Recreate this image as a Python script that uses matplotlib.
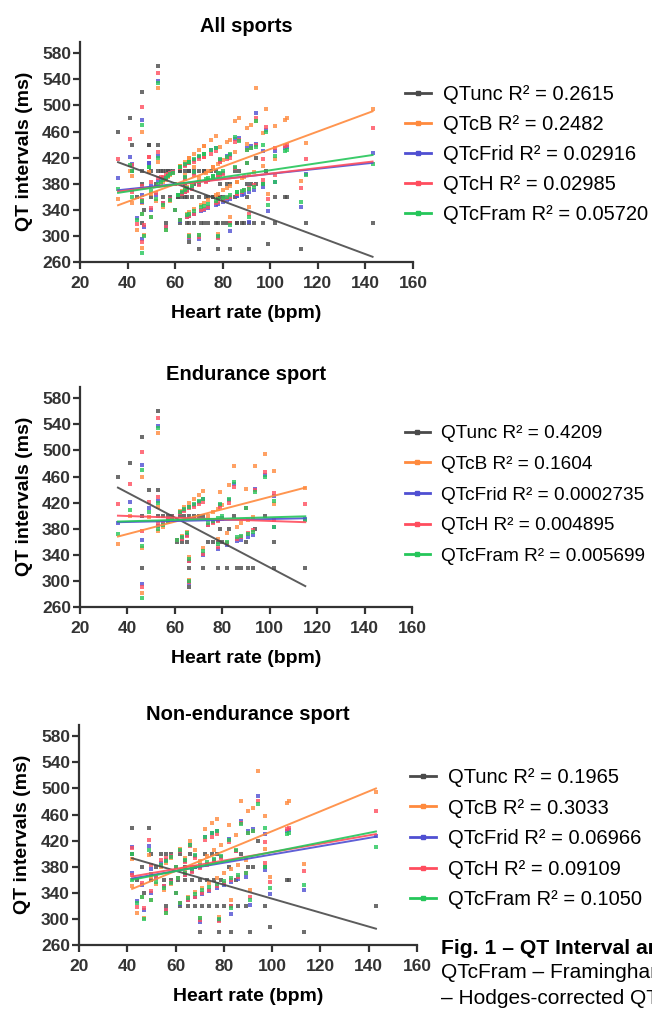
import matplotlib.pyplot as plt
from matplotlib.lines import Line2D

# series names and colours (GraphPad style)
series = ["QTunc", "QTcB", "QTcFrid", "QTcH", "QTcFram"]
colors = ["#4a4a4a", "#ff8a3d", "#4f4fd2", "#ff4d5e", "#25c65a"]

# Endurance athletes: heart rate and QT values (ms)
end_hr = [36, 41, 46, 46, 46, 49, 53, 53, 53, 55, 57, 59, 62, 64, 66, 68, 70, 72,
          61, 63, 65, 74, 76, 78, 80, 66, 72, 78, 82, 86, 88, 91, 93, 79, 83, 85,
          90, 94, 98, 102, 102, 115, 66]
end_unc = [460, 480, 520, 320, 400, 440, 560, 440, 400, 400, 400, 400, 400, 400, 400, 400, 400, 400,
           360, 360, 360, 360, 360, 360, 360, 320, 320, 320, 320, 320, 320, 320, 320, 380, 380, 400,
           360, 380, 400, 360, 320, 320, 290]
end_b = [357, 400, 460, 282, 350, 398, 526, 414, 376, 383, 390, 397, 407, 413, 420, 426, 432, 438,
         363, 369, 375, 400, 405, 410, 416, 336, 350, 365, 374, 383, 388, 394, 398, 436, 447, 476,
         441, 476, 495, 469, 418, 443, 301]
end_frid = [388, 421, 478, 295, 363, 412, 538, 422, 384, 389, 393, 398, 404, 409, 413, 417, 421, 425,
            362, 366, 370, 386, 390, 393, 396, 330, 340, 349, 355, 361, 363, 368, 370, 416, 424, 449,
            412, 441, 463, 430, 382, 395, 297]
end_h = [418, 449, 498, 290, 376, 421, 550, 428, 388, 391, 395, 398, 404, 407, 411, 414, 418, 421,
         362, 365, 369, 385, 388, 392, 395, 330, 341, 352, 358, 365, 368, 374, 378, 413, 420, 444,
         412, 439, 467, 434, 394, 418, 299]
end_fram = [372, 409, 470, 274, 353, 405, 534, 420, 380, 386, 392, 397, 405, 410, 414, 418, 422, 426,
            363, 367, 374, 389, 392, 396, 400, 334, 346, 356, 360, 367, 369, 372, 375, 418, 425, 451,
            411, 436, 460, 423, 383, 394, 300]

# Non-endurance athletes
non_hr = [42, 42, 44, 46, 47, 49, 50, 50, 52, 54, 55, 56, 56, 58, 58, 60, 60, 61, 62, 62,
          64, 64, 65, 66, 67, 68, 68, 70, 70, 71, 72, 73, 74, 75, 76, 77, 77, 78, 79, 80,
          82, 83, 83, 85, 86, 87, 89, 90, 91, 92, 94, 97, 97, 99, 106, 107, 113, 143]
non_unc = [440, 400, 360, 380, 340, 440, 400, 360, 380, 400, 360, 320, 400, 360, 400, 380, 340, 360, 400, 320,
           360, 380, 320, 400, 360, 320, 380, 360, 280, 320, 400, 360, 320, 400, 360, 320, 400, 280, 360, 320,
           380, 320, 280, 360, 320, 400, 320, 380, 280, 380, 420, 320, 380, 288, 360, 360, 280, 320]
non_b = [392, 350, 309, 333, 302, 398, 365, 329, 354, 379, 345, 309, 386, 354, 393, 380, 340, 363, 407, 325,
         372, 393, 333, 420, 380, 341, 405, 389, 302, 348, 438, 397, 355, 447, 405, 363, 453, 303, 413, 370,
         444, 376, 329, 428, 383, 481, 390, 465, 345, 470, 526, 407, 457, 365, 478, 480, 384, 494]
non_frid = [410, 370, 327, 352, 314, 412, 376, 339, 362, 386, 350, 313, 391, 356, 396, 380, 340, 362, 404, 323,
            368, 388, 329, 413, 374, 333, 396, 379, 295, 338, 425, 384, 343, 431, 390, 347, 434, 298, 395, 352,
            422, 357, 307, 404, 361, 450, 365, 435, 322, 438, 488, 375, 430, 338, 434, 436, 345, 427]
non_h = [409, 368, 318, 355, 317, 421, 383, 343, 366, 390, 351, 313, 393, 357, 397, 380, 340, 362, 404, 324,
         367, 387, 329, 411, 372, 334, 394, 378, 298, 339, 421, 383, 345, 426, 388, 350, 430, 297, 393, 355,
         418, 360, 320, 404, 365, 447, 371, 432, 334, 435, 480, 385, 418, 356, 438, 440, 373, 466]
non_fram = [399, 360, 324, 333, 300, 405, 369, 329, 356, 383, 347, 309, 389, 355, 395, 380, 340, 363, 405, 325,
            370, 390, 332, 414, 376, 338, 398, 382, 302, 344, 426, 387, 349, 431, 392, 354, 434, 300, 397, 358,
            421, 363, 317, 405, 367, 446, 370, 431, 329, 434, 476, 379, 440, 348, 430, 432, 352, 410]

# linear fits: x range and fitted QT at both ends
all_fit_x = [36, 143]
all_fit = [[413, 268], [347, 491], [370, 412], [368, 414], [366, 424]]
end_fit_x = [36, 115]
end_fit = [[443, 292], [368, 443], [390, 396], [400, 390], [391, 399]]
non_fit_x = [42, 143]
non_fit = [[393, 285], [346, 500], [362, 426], [365, 430], [360, 434]]

all_r2 = ["0.2615", "0.2482", "0.02916", "0.02985", "0.05720"]
end_r2 = ["0.4209", "0.1604", "0.0002735", "0.004895", "0.005699"]
non_r2 = ["0.1965", "0.3033", "0.06966", "0.09109", "0.1050"]

end_vals = [end_unc, end_b, end_frid, end_h, end_fram]
non_vals = [non_unc, non_b, non_frid, non_h, non_fram]
all_hr = end_hr + non_hr
all_vals = [e + n for e, n in zip(end_vals, non_vals)]

W, H = 652, 1011
fig = plt.figure(figsize=(W / 100, H / 100), dpi=100)

panels = [
    ("All sports", 7, all_hr, all_vals, all_fit_x, all_fit, all_r2, [80, 262, 333], (405, 85, 14.5, 8.0)),
    ("Endurance sport", 5, end_hr, end_vals, end_fit_x, end_fit, end_r2, [80, 607, 332], (405, 425, 13.7, 9.6)),
    ("Non-endurance sport", 2, non_hr, non_vals, non_fit_x, non_fit, non_r2, [79, 945, 338], (410, 768, 14.5, 8.3)),
]

tick_font = {"family": "Liberation Sans", "weight": "bold", "size": 12.5}
ax_h = 220.5

for title, tpad, hr, vals, fx, fits, r2, (left, bottom, width), (lx, ly, lsize, lsp) in panels:
    ax = fig.add_axes([left / W, (H - bottom) / H, width / W, ax_h / H])
    for i in range(5):
        ax.scatter(hr, vals[i], s=6, marker="s", color=colors[i], alpha=0.8,
                   linewidths=0, zorder=2)
    for i in range(5):
        ax.plot(fx, fits[i], color=colors[i], lw=1.4, alpha=0.9, zorder=3)

    ax.set_xlim(20, 160)
    ax.set_ylim(260, 598)
    ax.set_xticks(range(20, 161, 20))
    ax.set_yticks(range(260, 581, 40))
    for s in ["top", "right"]:
        ax.spines[s].set_visible(False)
    for s in ["left", "bottom"]:
        ax.spines[s].set_linewidth(1.6)
        ax.spines[s].set_color("#333333")
    ax.tick_params(axis="both", length=5, width=1.6, color="#333333",
                   labelcolor="#333333", pad=1.5)
    ax.tick_params(axis="x", pad=5)
    for lab in ax.get_xticklabels() + ax.get_yticklabels():
        lab.set_fontproperties(tick_font)

    ax.set_title(title, fontsize=14.5, fontweight="bold", family="Liberation Sans", pad=tpad)
    ax.set_xlabel("Heart rate (bpm)", fontsize=14, fontweight="bold", family="Liberation Sans")
    ax.set_ylabel("QT intervals (ms)", fontsize=14, fontweight="bold", family="Liberation Sans")
    ax.xaxis.set_label_coords(0.5, -0.195)
    ax.yaxis.set_label_coords(-0.142, 0.5)

    handles = [Line2D([], [], color=colors[i], lw=2, marker="s", markersize=2.5)
               for i in range(5)]
    labels = [f"{series[i]} R\u00b2 = {r2[i]}" for i in range(5)]
    fig.legend(handles, labels, loc="upper left", bbox_to_anchor=(lx / W, 1 - ly / H),
               frameon=False, borderpad=0, borderaxespad=0, handlelength=1.3,
               handletextpad=0.6, labelspacing=lsp / lsize,
               prop={"family": "Liberation Sans", "size": lsize})

# caption, cut at the right edge like the source page
fig.text(441 / W, 1 - 948 / H, "Fig. 1 \u2013 QT Interval and heart rate", fontsize=15.2,
         fontweight="bold", family="Liberation Sans", va="center")
fig.text(441 / W, 1 - 973 / H, "QTcFram \u2013 Framingham-corrected QT;", fontsize=15,
         family="Liberation Sans", va="center")
fig.text(441 / W, 1 - 998 / H, "\u2013 Hodges-corrected QT", fontsize=15,
         family="Liberation Sans", va="center")

fig.savefig("out.png", dpi=100)
